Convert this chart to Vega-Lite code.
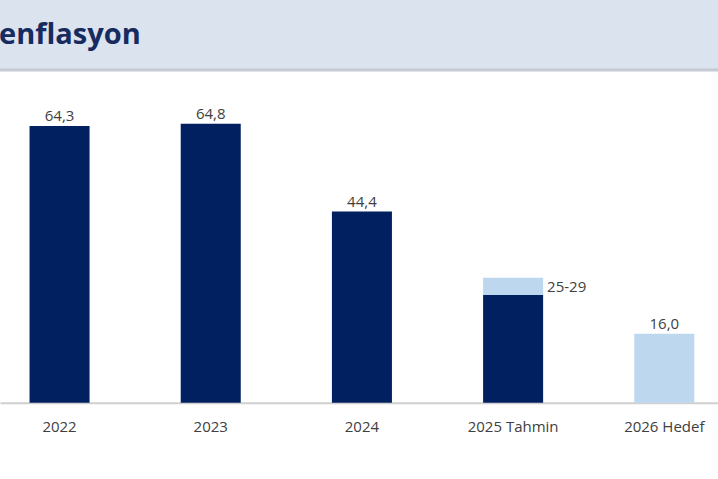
{
  "$schema": "https://vega.github.io/schema/vega-lite/v6.json",
  "width": 718,
  "height": 408,
  "autosize": {"type": "none"},
  "padding": {"top": 71, "left": 0, "right": 0, "bottom": 0},
  "background": "#dae3ee",
  "config": {"view": {"fill": "white", "stroke": null}},
  "title": {
    "text": "enflasyon",
    "anchor": "start",
    "frame": "group",
    "font": "Open Sans",
    "fontSize": 29,
    "fontWeight": "bold",
    "color": "#172b5e",
    "baseline": "alphabetic",
    "offset": 28,
    "dx": -1,
    "dy": 33
  },
  "datasets": {
    "bars": [
      {"yil": "2022", "bas": 0, "son": 64.3, "tur": "Gerçekleşme"},
      {"yil": "2023", "bas": 0, "son": 64.8, "tur": "Gerçekleşme"},
      {"yil": "2024", "bas": 0, "son": 44.4, "tur": "Gerçekleşme"},
      {"yil": "2025 Tahmin", "bas": 0, "son": 25, "tur": "Gerçekleşme"},
      {"yil": "2025 Tahmin", "bas": 25, "son": 29, "tur": "Tahmin/Hedef"},
      {"yil": "2026 Hedef", "bas": 0, "son": 16, "tur": "Tahmin/Hedef"}
    ],
    "labels": [
      {"yil": "2022", "deger": 64.3, "etiket": "64,3", "tip": "değer"},
      {"yil": "2023", "deger": 64.8, "etiket": "64,8", "tip": "değer"},
      {"yil": "2024", "deger": 44.4, "etiket": "44,4", "tip": "değer"},
      {"yil": "2025 Tahmin", "deger": 29, "etiket": "25-29", "tip": "aralık"},
      {"yil": "2026 Hedef", "deger": 16, "etiket": "16,0", "tip": "değer"}
    ]
  },
  "encoding": {
    "x": {
      "field": "yil",
      "type": "nominal",
      "title": null,
      "scale": {
        "domain": ["2022", "2023", "2024", "2025 Tahmin", "2026 Hedef"],
        "paddingInner": 0.603,
        "paddingOuter": 0.176,
        "align": 0.555
      },
      "axis": {
        "orient": "bottom",
        "offset": -76.3,
        "domainColor": "#d0d0d0",
        "domainWidth": 2,
        "ticks": false,
        "grid": false,
        "labelAngle": 0,
        "labelFont": "Open Sans",
        "labelFontSize": 15,
        "labelColor": "#404040",
        "labelBaseline": "alphabetic",
        "labelPadding": 29
      }
    }
  },
  "layer": [
    {
      "data": {"values": [{"sinir": "başlık"}]},
      "mark": {"type": "rule", "color": "#c5cad5", "strokeWidth": 3},
      "encoding": {"x": null, "y": {"datum": 77.3, "type": "quantitative", "scale": {"domain": [-17.72, 77.05], "nice": false, "zero": false}, "axis": null}}
    },
    {
      "data": {"name": "bars"},
      "mark": {"type": "bar"},
      "encoding": {
        "y": {"field": "bas", "type": "quantitative", "scale": {"domain": [-17.72, 77.05], "nice": false, "zero": false}, "axis": null},
        "y2": {"field": "son"},
        "color": {
          "field": "tur",
          "type": "nominal",
          "scale": {"domain": ["Gerçekleşme", "Tahmin/Hedef"], "range": ["#002060", "#bdd7ee"]},
          "legend": null
        }
      }
    },
    {
      "data": {"name": "labels"},
      "transform": [{"filter": "datum.tip === 'değer'"}],
      "mark": {"type": "text", "baseline": "alphabetic", "dy": -5, "font": "Open Sans", "fontSize": 15, "color": "#404040"},
      "encoding": {
        "y": {"field": "deger", "type": "quantitative", "axis": null},
        "text": {"field": "etiket"}
      }
    },
    {
      "data": {"name": "labels"},
      "transform": [{"filter": "datum.tip === 'aralık'"}],
      "mark": {"type": "text", "baseline": "alphabetic", "align": "left", "dx": 34, "dy": 14, "font": "Open Sans", "fontSize": 15, "color": "#404040"},
      "encoding": {
        "y": {"field": "deger", "type": "quantitative", "axis": null},
        "text": {"field": "etiket"}
      }
    }
  ]
}
